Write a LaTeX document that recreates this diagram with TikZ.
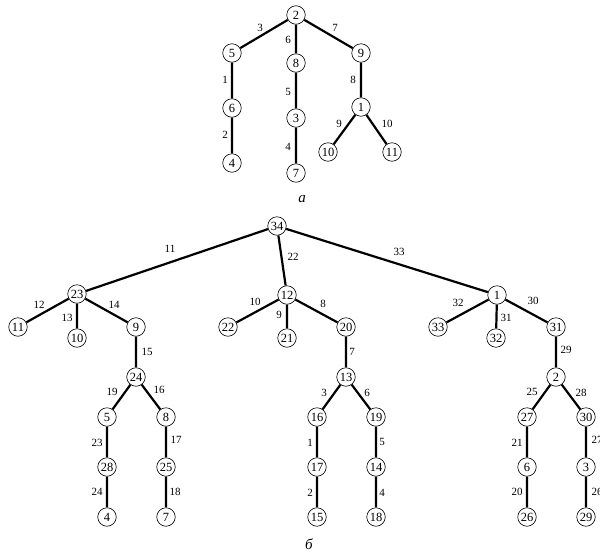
\documentclass[tikz,border=0pt]{standalone}
\usepackage{fontspec}
\setmainfont{Liberation Serif}
\begin{document}
\begin{tikzpicture}[x=1pt,y=-1pt,
  vtx/.style={circle,draw,line width=0.6pt,minimum size=18.5pt,inner sep=0pt,font=\fontsize{12.5}{13}\selectfont},
  edg/.style={line width=2.2pt},
  el/.style={inner sep=0pt,font=\fontsize{11}{12}\selectfont},
  captxt/.style={inner sep=0pt,font=\itshape\fontsize{15}{16}\selectfont}]
\useasboundingbox (0,0) rectangle (600,552);
% tree a
\node[vtx] (t2) at (296,15) {2};
\node[vtx] (t5) at (232,53) {5};
\node[vtx] (t8) at (296,63) {8};
\node[vtx] (t9) at (361,53) {9};
\node[vtx] (t6) at (232,108) {6};
\node[vtx] (t3) at (296,118) {3};
\node[vtx] (t1) at (361,107) {1};
\node[vtx] (t4) at (232,163) {4};
\node[vtx] (t7) at (296,173) {7};
\node[vtx] (t10) at (328,152) {10};
\node[vtx] (t11) at (392,152) {11};
\draw[edg] (t2)--(t5) (t2)--(t8) (t2)--(t9) (t5)--(t6) (t6)--(t4) (t8)--(t3) (t3)--(t7) (t9)--(t1) (t1)--(t10) (t1)--(t11);
\node[el] (ta3) at (260,28) {3};
\node[el] (ta7) at (335,28) {7};
\node[el] (ta6) at (288,40) {6};
\node[el] (ta1) at (225,80) {1};
\node[el] (ta8) at (353,80) {8};
\node[el] (ta5) at (288,92) {5};
\node[el] (ta2) at (225,135) {2};
\node[el] (ta9) at (339,124) {9};
\node[el] (ta10) at (387,124) {10};
\node[el] (ta4) at (288,147) {4};
\node[captxt] (capa) at (302,199) {a};
% tree b
\node[vtx] (b34) at (277,226) {34};
\node[vtx] (b23) at (77,294) {23};
\node[vtx] (b12) at (287,295) {12};
\node[vtx] (b1) at (497,295) {1};
\node[vtx] (b11) at (18,327) {11};
\node[vtx] (b10) at (77,338) {10};
\node[vtx] (b9) at (136,327) {9};
\node[vtx] (b22) at (228,327) {22};
\node[vtx] (b21) at (287,338) {21};
\node[vtx] (b20) at (346,327) {20};
\node[vtx] (b33) at (438,327) {33};
\node[vtx] (b32) at (496,338) {32};
\node[vtx] (b31) at (556,327) {31};
\node[vtx] (b24) at (136,377) {24};
\node[vtx] (b13) at (346,377) {13};
\node[vtx] (b2) at (556,377) {2};
\node[vtx] (b5) at (107,417) {5};
\node[vtx] (b8) at (166,417) {8};
\node[vtx] (b16) at (317,417) {16};
\node[vtx] (b19) at (376,417) {19};
\node[vtx] (b27) at (527,417) {27};
\node[vtx] (b30) at (586,417) {30};
\node[vtx] (b28) at (107,467) {28};
\node[vtx] (b25) at (166,467) {25};
\node[vtx] (b17) at (317,467) {17};
\node[vtx] (b14) at (376,467) {14};
\node[vtx] (b6) at (527,467) {6};
\node[vtx] (b3) at (586,467) {3};
\node[vtx] (b4) at (107,517) {4};
\node[vtx] (b7) at (166,517) {7};
\node[vtx] (b15) at (317,517) {15};
\node[vtx] (b18) at (376,517) {18};
\node[vtx] (b26) at (527,517) {26};
\node[vtx] (b29) at (586,517) {29};
\draw[edg] (b34)--(b23) (b34)--(b12) (b34)--(b1)
  (b23)--(b11) (b23)--(b10) (b23)--(b9) (b9)--(b24) (b24)--(b5) (b24)--(b8)
  (b5)--(b28) (b28)--(b4) (b8)--(b25) (b25)--(b7)
  (b12)--(b22) (b12)--(b21) (b12)--(b20) (b20)--(b13) (b13)--(b16) (b13)--(b19)
  (b16)--(b17) (b17)--(b15) (b19)--(b14) (b14)--(b18)
  (b1)--(b33) (b1)--(b32) (b1)--(b31) (b31)--(b2) (b2)--(b27) (b2)--(b30)
  (b27)--(b6) (b6)--(b26) (b30)--(b3) (b3)--(b29);
\node[el] (l11) at (170,249) {11};
\node[el] (l22) at (293,257) {22};
\node[el] (l33) at (399,252) {33};
\node[el] (l12) at (39,305) {12};
\node[el] (l13) at (67,318) {13};
\node[el] (l14) at (114,305) {14};
\node[el] (l10) at (255,302) {10};
\node[el] (l9) at (279,315) {9};
\node[el] (l8) at (323,304) {8};
\node[el] (l32) at (458,303) {32};
\node[el] (l31) at (506,318) {31};
\node[el] (l30) at (533,301) {30};
\node[el] (l15) at (147,352) {15};
\node[el] (l7) at (352,352) {7};
\node[el] (l29) at (566,350) {29};
\node[el] (l19) at (112,392) {19};
\node[el] (l16) at (159,390) {16};
\node[el] (l3) at (324,393) {3};
\node[el] (l6) at (367,393) {6};
\node[el] (l25) at (532,392) {25};
\node[el] (l28) at (581,393) {28};
\node[el] (l23) at (97,443) {23};
\node[el] (l17) at (176,440) {17};
\node[el] (l1) at (310,443) {1};
\node[el] (l5) at (382,442) {5};
\node[el] (l21) at (517,443) {21};
\node[el] (l27) at (597,440) {27};
\node[el] (l24) at (97,492) {24};
\node[el] (l18) at (175,492) {18};
\node[el] (l2) at (310,493) {2};
\node[el] (l4) at (382,493) {4};
\node[el] (l20) at (517,492) {20};
\node[el] (l26) at (597,492) {26};
\node[captxt] (capb) at (309,544) {б};
\end{tikzpicture}
\end{document}
